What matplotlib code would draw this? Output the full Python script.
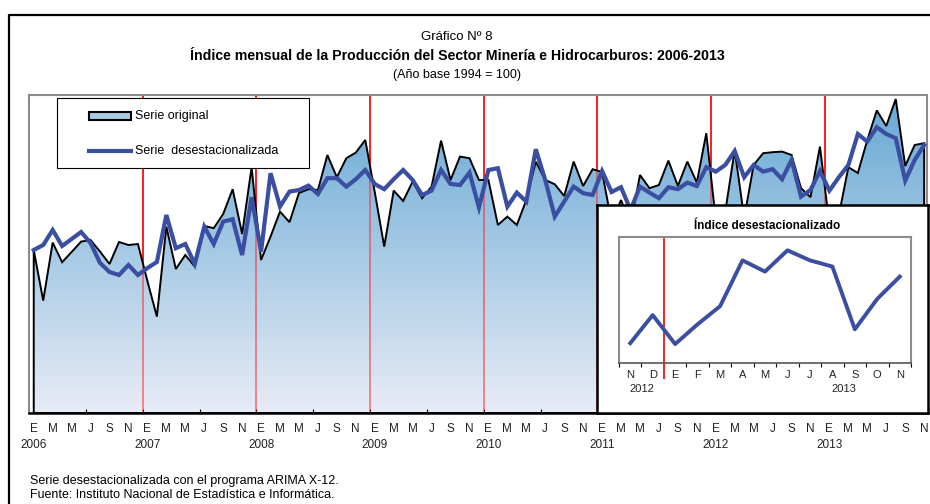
import matplotlib
matplotlib.use("Agg")
import matplotlib.pyplot as plt
from matplotlib import font_manager
from matplotlib.patches import Polygon, Rectangle
from matplotlib.lines import Line2D
from matplotlib.colors import LinearSegmentedColormap
import numpy as np

# ===== datos =====
letras_mes = ["E", "F", "M", "A", "M", "J", "J", "A", "S", "O", "N", "D"]
anios = [2006, 2007, 2008, 2009, 2010, 2011, 2012, 2013]

# Serie original (ene-2006 ... nov-2013)
serie_original = [
    175.0, 149.7, 178.7, 168.9, 174.0, 179.2, 180.0, 174.2, 168.0, 179.0, 177.5, 178.0,
    159.5, 141.7, 186.7, 165.5, 172.5, 166.7, 187.0, 185.9, 193.0, 205.4, 183.0, 216.4,
    170.0, 181.7, 194.2, 188.9, 203.5, 205.4, 205.0, 222.5, 211.4, 220.9, 223.7, 230.0,
    204.0, 176.7, 204.7, 199.5, 209.2, 200.9, 206.7, 229.7, 210.0, 221.7, 220.9, 210.0,
    210.0, 187.5, 191.7, 187.5, 200.0, 219.2, 210.0, 207.9, 202.0, 219.2, 207.0, 215.4,
    214.0, 189.0, 200.0, 187.5, 212.5, 205.9, 207.5, 219.7, 207.0, 219.2, 208.7, 233.4,
    190.0, 194.0, 225.0, 191.0, 217.5, 223.4, 223.9, 224.2, 222.5, 205.9, 201.4, 226.7,
    187.5, 192.5, 216.4, 213.5, 230.0, 244.8, 237.0, 250.5, 217.0, 227.5, 228.4,
]

# Serie desestacionalizada
serie_deses = [
    175.0, 177.5, 185.0, 177.0, 180.5, 184.0, 178.5, 168.5, 164.0, 162.5, 167.5, 162.5,
    166.0, 169.0, 192.5, 175.9, 178.0, 168.0, 186.7, 178.0, 189.2, 190.4, 172.5, 201.4,
    174.2, 213.4, 196.7, 204.2, 205.0, 207.2, 203.0, 210.9, 210.9, 206.7, 210.4, 215.0,
    208.0, 205.4, 210.4, 215.0, 210.0, 202.5, 204.7, 215.0, 208.0, 207.5, 213.7, 196.3,
    215.0, 215.9, 196.7, 203.7, 199.2, 225.4, 210.0, 191.7, 199.2, 206.7, 203.4, 202.5,
    214.5, 204.0, 206.4, 195.0, 206.7, 203.7, 200.9, 206.4, 205.4, 208.7, 207.0, 216.4,
    214.2, 217.5, 224.5, 211.4, 217.5, 214.2, 215.4, 210.4, 220.0, 201.7, 205.0, 214.5,
    204.7, 211.4, 217.5, 233.0, 229.2, 236.4, 233.0, 230.9, 209.7, 220.0, 227.5,
]

# recuadro: ultimos 13 meses (nov-2012 ... nov-2013)
n_recuadro = 13

# ===== fuentes =====
nombres = {f.name for f in font_manager.fontManager.ttflist}
angosta = "Liberation Sans Narrow" if "Liberation Sans Narrow" in nombres else "Liberation Sans"
normal = "Liberation Sans"
plt.rcParams["font.family"] = [normal, "DejaVu Sans"]

W, H = 930, 504


def fx(x):
    return x / W


def fy(y):
    return 1 - y / H


fig = plt.figure(figsize=(W / 100, H / 100), dpi=100)

# marco exterior (solo se ven el borde superior e izquierdo)
fig.add_artist(Line2D([fx(9), fx(9), 1.0], [0.0, fy(15), fy(15)], transform=fig.transFigure,
                      color="black", lw=1.6, zorder=0))

# titulos
fig.text(fx(457), fy(37), "Gráfico Nº 8", ha="center", va="center", fontsize=9.5, family=angosta)
fig.text(fx(457), fy(56), "Índice mensual de la Producción del Sector Minería e Hidrocarburos: 2006-2013",
         ha="center", va="center", fontsize=10.2, fontweight="bold", family=angosta)
fig.text(fx(457), fy(75), "(Año base 1994 = 100)", ha="center", va="center", fontsize=9, family=angosta)

# ===== grafico principal =====
ax = fig.add_axes([fx(29), fy(413), fx(927) - fx(29), fy(95) - fy(413)])
n = len(serie_original)
x = np.arange(n)
ymin, ymax = 93.5, 252.5
azul = "#3a4ea2"

# lineas rojas de cambio de anio (debajo del area)
for k in range(len(anios)):
    ax.axvline(12 * k - 0.5, color="#ff1f1f", lw=1.4, zorder=1)

# area con degradado
verts = [(0, ymin)] + list(zip(x, serie_original)) + [(n - 1, ymin)]
poly = Polygon(verts, closed=True, facecolor="none", edgecolor="black", lw=1.4, zorder=3)
ax.add_patch(poly)
cmap = LinearSegmentedColormap.from_list("grad", ["#66a8d4", "#e8ecf6"])
grad = np.linspace(0, 1, 256).reshape(-1, 1)
im = ax.imshow(grad, cmap=cmap, aspect="auto", extent=[-0.5, 94.3, ymin, ymax],
               origin="upper", zorder=1.5)
im.set_clip_path(poly)

# lineas rojas semitransparentes sobre el area
for k in range(len(anios)):
    ax.axvline(12 * k - 0.5, color="#ff1f1f", lw=1.4, alpha=0.5, zorder=2)

ax.plot(x, serie_deses, color=azul, lw=3.0, zorder=4, solid_joinstyle="miter")

ax.set_xlim(-0.5, 94.3)
ax.set_ylim(ymin, ymax)
ax.set_yticks([])
ax.set_xticks(x[::2])
ax.set_xticklabels([letras_mes[i % 12] for i in x[::2]], fontsize=8.5, family=angosta, color="#222222")
ax.tick_params(axis="x", which="major", length=0, pad=7)
ax.set_xticks(np.arange(5.5, n, 6), minor=True)
ax.tick_params(axis="x", which="minor", direction="in", length=3, width=0.8)
for k, a in enumerate(anios):
    ax.text(12 * k, -0.1, str(a), transform=ax.get_xaxis_transform(), ha="center", va="center",
            fontsize=8.5, family=angosta, color="#222222")
for lado in ["top", "left", "right"]:
    ax.spines[lado].set_color("#8c8c8c")
    ax.spines[lado].set_linewidth(1.5)
ax.spines["bottom"].set_color("black")
ax.spines["bottom"].set_linewidth(1.8)

# leyenda dibujada a mano
fig.add_artist(Rectangle((fx(57), fy(168)), fx(309) - fx(57), fy(98) - fy(168), transform=fig.transFigure,
                         facecolor="white", edgecolor="black", lw=0.8, zorder=5))
fig.add_artist(Rectangle((fx(89), fy(120)), fx(131) - fx(89), fy(112) - fy(120), transform=fig.transFigure,
                         facecolor="#a6cbe4", edgecolor="black", lw=1.5, zorder=6))
fig.add_artist(Line2D([fx(89), fx(131)], [fy(151), fy(151)], transform=fig.transFigure,
                      color=azul, lw=3, zorder=6))
fig.text(fx(135), fy(116), "Serie original", va="center", fontsize=9, family=angosta, zorder=7)
fig.text(fx(135), fy(151), "Serie  desestacionalizada", va="center", fontsize=9, family=angosta, zorder=7)

# ===== recuadro: indice desestacionalizado =====
caja = fig.add_axes([fx(597), fy(413), fx(928) - fx(597), fy(205) - fy(413)], zorder=5)
caja.set_xticks([])
caja.set_yticks([])
caja.set_facecolor("white")
for s in caja.spines.values():
    s.set_linewidth(1.8)
    s.set_color("black")
fig.text(fx(767), fy(226), "Índice desestacionalizado", ha="center", va="center",
         fontsize=8.5, fontweight="bold", zorder=8)

ins = fig.add_axes([fx(619), fy(363), fx(911) - fx(619), fy(237) - fy(363)], zorder=6)
xi = np.arange(n_recuadro)
ins.plot(xi, serie_deses[-n_recuadro:], color=azul, lw=2.8, zorder=3)
ins.set_xlim(-0.5, n_recuadro - 0.5)
ins.set_ylim(198.3, 240.9)
ins.set_yticks([])
ins.set_xticks(xi)
ins.set_xticklabels([letras_mes[i % 12] for i in range(n - n_recuadro, n)], fontsize=8, color="#222222")
ins.tick_params(axis="x", which="major", length=0, pad=5)
ins.set_xticks(np.arange(-0.5, n_recuadro, 1), minor=True)
ins.tick_params(axis="x", which="minor", direction="out", length=3, width=0.8)
# linea roja de cambio de anio (dic-2012 / ene-2013)
ins.plot([1.5, 1.5], [1, -0.12], transform=ins.get_xaxis_transform(), color="#ff1f1f",
         lw=1.4, clip_on=False, zorder=2)
ins.text(0.5, -0.205, "2012", transform=ins.get_xaxis_transform(), ha="center", va="center",
         fontsize=8, color="#222222")
ins.text(9.5, -0.205, "2013", transform=ins.get_xaxis_transform(), ha="center", va="center",
         fontsize=8, color="#222222")
for lado in ["top", "left", "right"]:
    ins.spines[lado].set_color("#8c8c8c")
    ins.spines[lado].set_linewidth(1.5)
ins.spines["bottom"].set_color("#555555")
ins.spines["bottom"].set_linewidth(1.2)

# notas
fig.text(fx(30), fy(481), "Serie desestacionalizada con el programa ARIMA X-12.", va="center", fontsize=9)
fig.text(fx(30), fy(495), "Fuente: Instituto Nacional de Estadística e Informática.", va="center", fontsize=9)

fig.savefig("out.png", dpi=100)
